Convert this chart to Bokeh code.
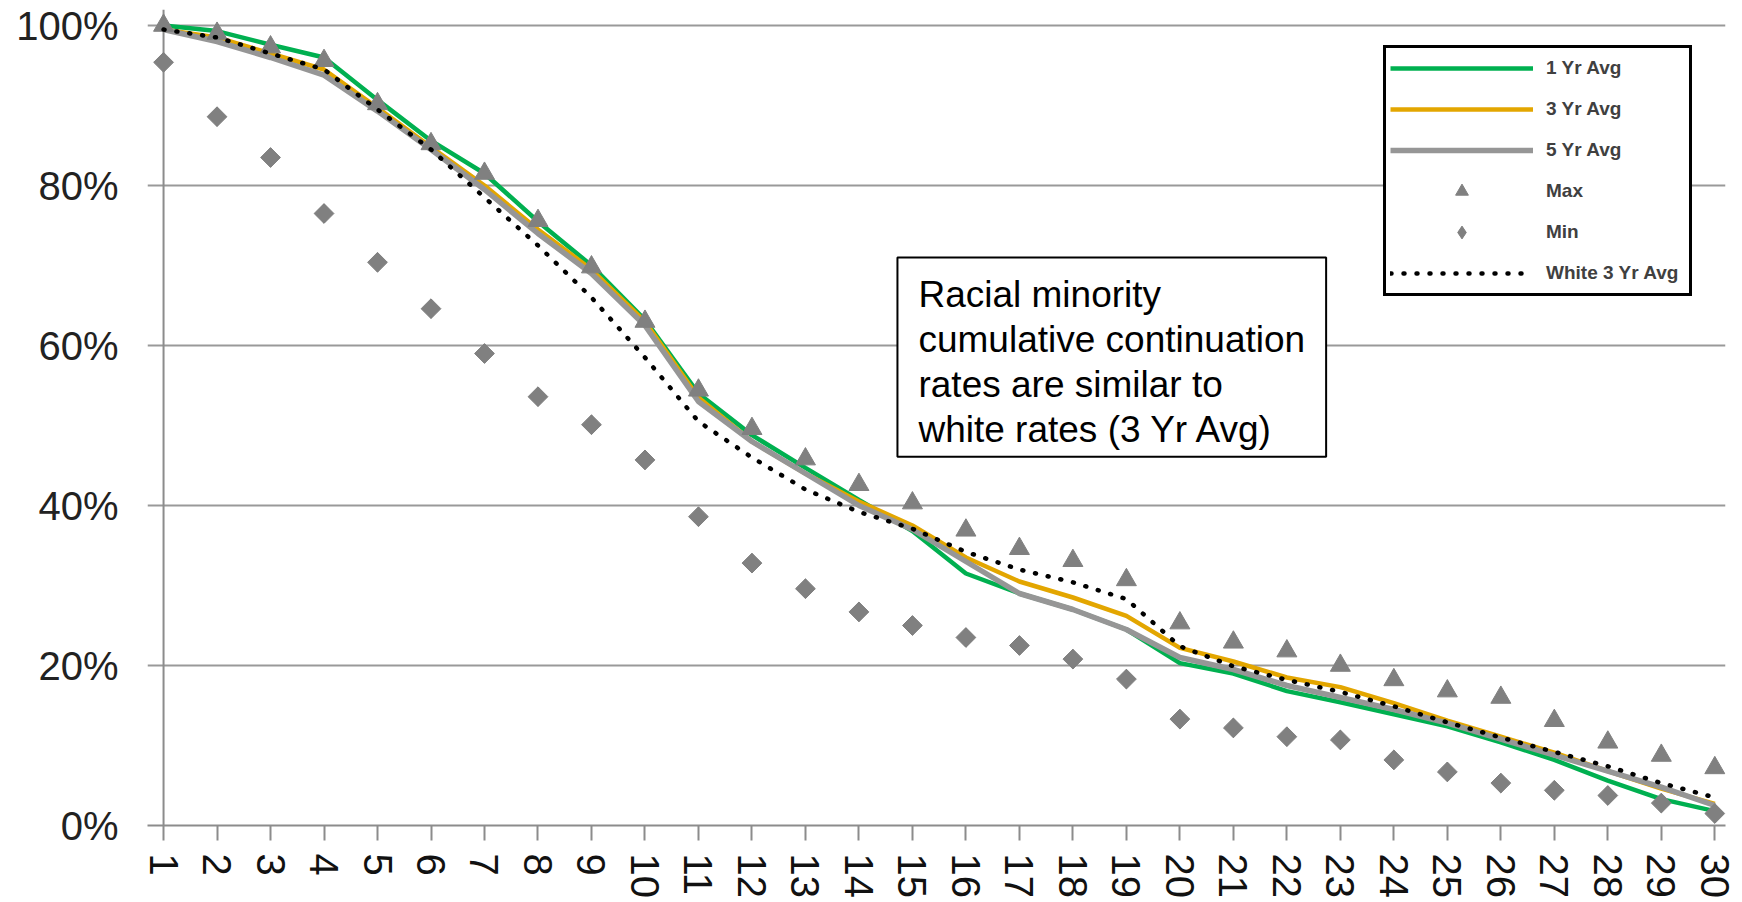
import math
from bokeh.plotting import figure
from bokeh.models import (Range1d, FixedTicker, PrintfTickFormatter, Legend, LegendItem,
                          Label, Span, ColumnDataSource)
from bokeh.embed import file_html
from bokeh.resources import INLINE

years = list(range(1, 31))
year_labels = [str(y) for y in years]
one_yr = [100, 99.3, 97.6, 96.0, 90.7, 85.6, 81.5, 75.5, 70.0, 63.2, 54.0, 48.8, 44.7, 40.7, 36.8,
          31.5, 29.0, 27.0, 24.5, 20.3, 19.0, 16.8, 15.4, 13.9, 12.4, 10.4, 8.2, 5.6, 3.3, 1.8]
three_yr = [99.5, 98.5, 96.5, 94.5, 89.7, 84.8, 80.0, 74.5, 69.5, 63.0, 53.5, 48.0, 44.0, 40.5, 37.5,
            33.5, 30.5, 28.5, 26.2, 22.2, 20.5, 18.5, 17.3, 15.3, 13.1, 11.1, 9.1, 6.8, 4.6, 2.7]
five_yr = [99.5, 98.0, 96.0, 93.8, 89.3, 84.5, 79.5, 74.0, 69.0, 62.5, 53.0, 48.0, 44.0, 40.0, 37.0,
           33.0, 29.0, 27.0, 24.5, 21.0, 19.5, 17.5, 16.0, 14.5, 12.8, 10.8, 8.8, 6.8, 4.8, 2.5]
max_v = [100, 99.0, 97.3, 95.6, 90.2, 85.2, 81.5, 75.6, 69.8, 63.0, 54.4, 49.6, 45.8, 42.6, 40.3,
         36.9, 34.6, 33.1, 30.7, 25.3, 22.9, 21.8, 20.0, 18.2, 16.8, 16.0, 13.1, 10.4, 8.75, 7.2]
min_v = [95.4, 88.6, 83.5, 76.5, 70.4, 64.6, 59.0, 53.6, 50.1, 45.7, 38.6, 32.8, 29.6, 26.7, 25.0,
         23.5, 22.5, 20.8, 18.3, 13.3, 12.2, 11.1, 10.7, 8.2, 6.7, 5.3, 4.4, 3.75, 2.8, 1.5]
white_3yr = [99.5, 98.5, 96.5, 94.5, 89.5, 84.5, 78.5, 72.5, 66.0, 58.5, 50.5, 46.0, 42.0, 39.2, 37.1,
             34.2, 32.0, 30.4, 28.3, 22.4, 19.9, 18.2, 16.7, 14.9, 12.9, 11.0, 9.2, 7.4, 5.3, 3.5]
y_ticks = [0, 20, 40, 60, 80, 100]
series_names = ["1 Yr Avg", "3 Yr Avg", "5 Yr Avg", "Max", "Min", "White 3 Yr Avg"]
note_text = "Racial minority\ncumulative continuation\nrates are similar to\nwhite rates (3 Yr Avg)"

src = ColumnDataSource(dict(x=years, one=one_yr, three=three_yr, five=five_yr,
                            mx=max_v, mn=min_v, wh=white_3yr))

p = figure(width=1742, height=902, output_backend="svg", toolbar_location=None,
           x_range=Range1d(0.7, 30.2), y_range=Range1d(0, 102),
           min_border_left=147, min_border_right=17, min_border_top=9, min_border_bottom=77)
p.outline_line_color = None
p.background_fill_color = "white"
p.border_fill_color = "white"

FONT = "Liberation Sans"

# x axis
p.xaxis.ticker = FixedTicker(ticks=years)
p.xaxis.major_label_overrides = {y: l for y, l in zip(years, year_labels)}
p.xaxis.major_label_orientation = -math.pi / 2
p.xaxis.major_label_text_font = FONT
p.xaxis.major_label_text_font_size = "40px"
p.xaxis.major_label_text_color = "#111111"
p.xaxis.major_tick_out = 15
p.xaxis.major_tick_in = 0
p.xaxis.minor_tick_out = 0
p.xaxis.minor_tick_in = 0
p.xaxis.major_tick_line_color = "#8c8c8c"
p.xaxis.major_tick_line_width = 2
p.xaxis.axis_line_color = "#8c8c8c"
p.xaxis.axis_line_width = 2
p.xaxis.major_label_standoff = 13

# y axis (labels only; the vertical rule sits at year 1)
p.yaxis.ticker = FixedTicker(ticks=y_ticks)
p.yaxis.formatter = PrintfTickFormatter(format="%d%%")
p.yaxis.major_label_text_font = FONT
p.yaxis.major_label_text_font_size = "40px"
p.yaxis.major_label_text_color = "#222222"
p.yaxis.major_tick_out = 0
p.yaxis.major_tick_in = 0
p.yaxis.minor_tick_out = 0
p.yaxis.minor_tick_in = 0
p.yaxis.axis_line_color = None
p.yaxis.major_label_standoff = 29

p.add_layout(Span(location=years[0], dimension="height", line_color="#8c8c8c",
                  line_width=2, level="underlay"))

p.xgrid.grid_line_color = None
p.ygrid.ticker = FixedTicker(ticks=y_ticks)
p.ygrid.grid_line_color = "#999999"
p.ygrid.grid_line_width = 2

r1 = p.line("x", "one", source=src, line_color="#00B050", line_width=4.5)
r3 = p.line("x", "three", source=src, line_color="#E3A600", line_width=4.5)
r5 = p.line("x", "five", source=src, line_color="#969696", line_width=5.5)
rmax = p.scatter("x", "mx", source=src, marker="triangle", size=20,
                 fill_color="#808080", line_color="#808080")
# diamond glyph (used for the legend swatch) under a rotated square of the same extent
rmin_key = p.scatter("x", "mn", source=src, marker="diamond", size=19,
                     fill_color="#808080", line_color="#808080")
rmin = p.scatter("x", "mn", source=src, marker="square", angle=math.pi / 4, size=14,
                 fill_color="#808080", line_color="#808080")
rw = p.line("x", "wh", source=src, line_color="black", line_width=4.5,
            line_dash="1 12", line_cap="round")

legend = Legend(items=[LegendItem(label=n, renderers=[r]) for n, r in
                       zip(series_names, [r1, r3, r5, rmax, rmin_key, rw])],
                location=(1236, 529), orientation="vertical",
                border_line_color="black", border_line_width=3.5, border_line_alpha=1,
                background_fill_color="white", background_fill_alpha=1,
                padding=4, spacing=9, margin=0,
                glyph_width=143, glyph_height=32, label_standoff=13, label_width=139,
                label_text_font=FONT, label_text_font_size="19px",
                label_text_font_style="bold", label_text_color="#404040")
p.add_layout(legend)

note = Label(x=14.72, y=71, x_units="data", y_units="data", text=note_text,
             text_font=FONT, text_font_size="37px", text_color="black",
             text_line_height=1.1, anchor="top_left",
             border_line_color="black", border_line_width=2,
             background_fill_color="white", background_fill_alpha=1,
             padding=dict(left=21, right=21, top=16, bottom=7))
p.add_layout(note)

open("out.html", "w").write(file_html(p, INLINE))
